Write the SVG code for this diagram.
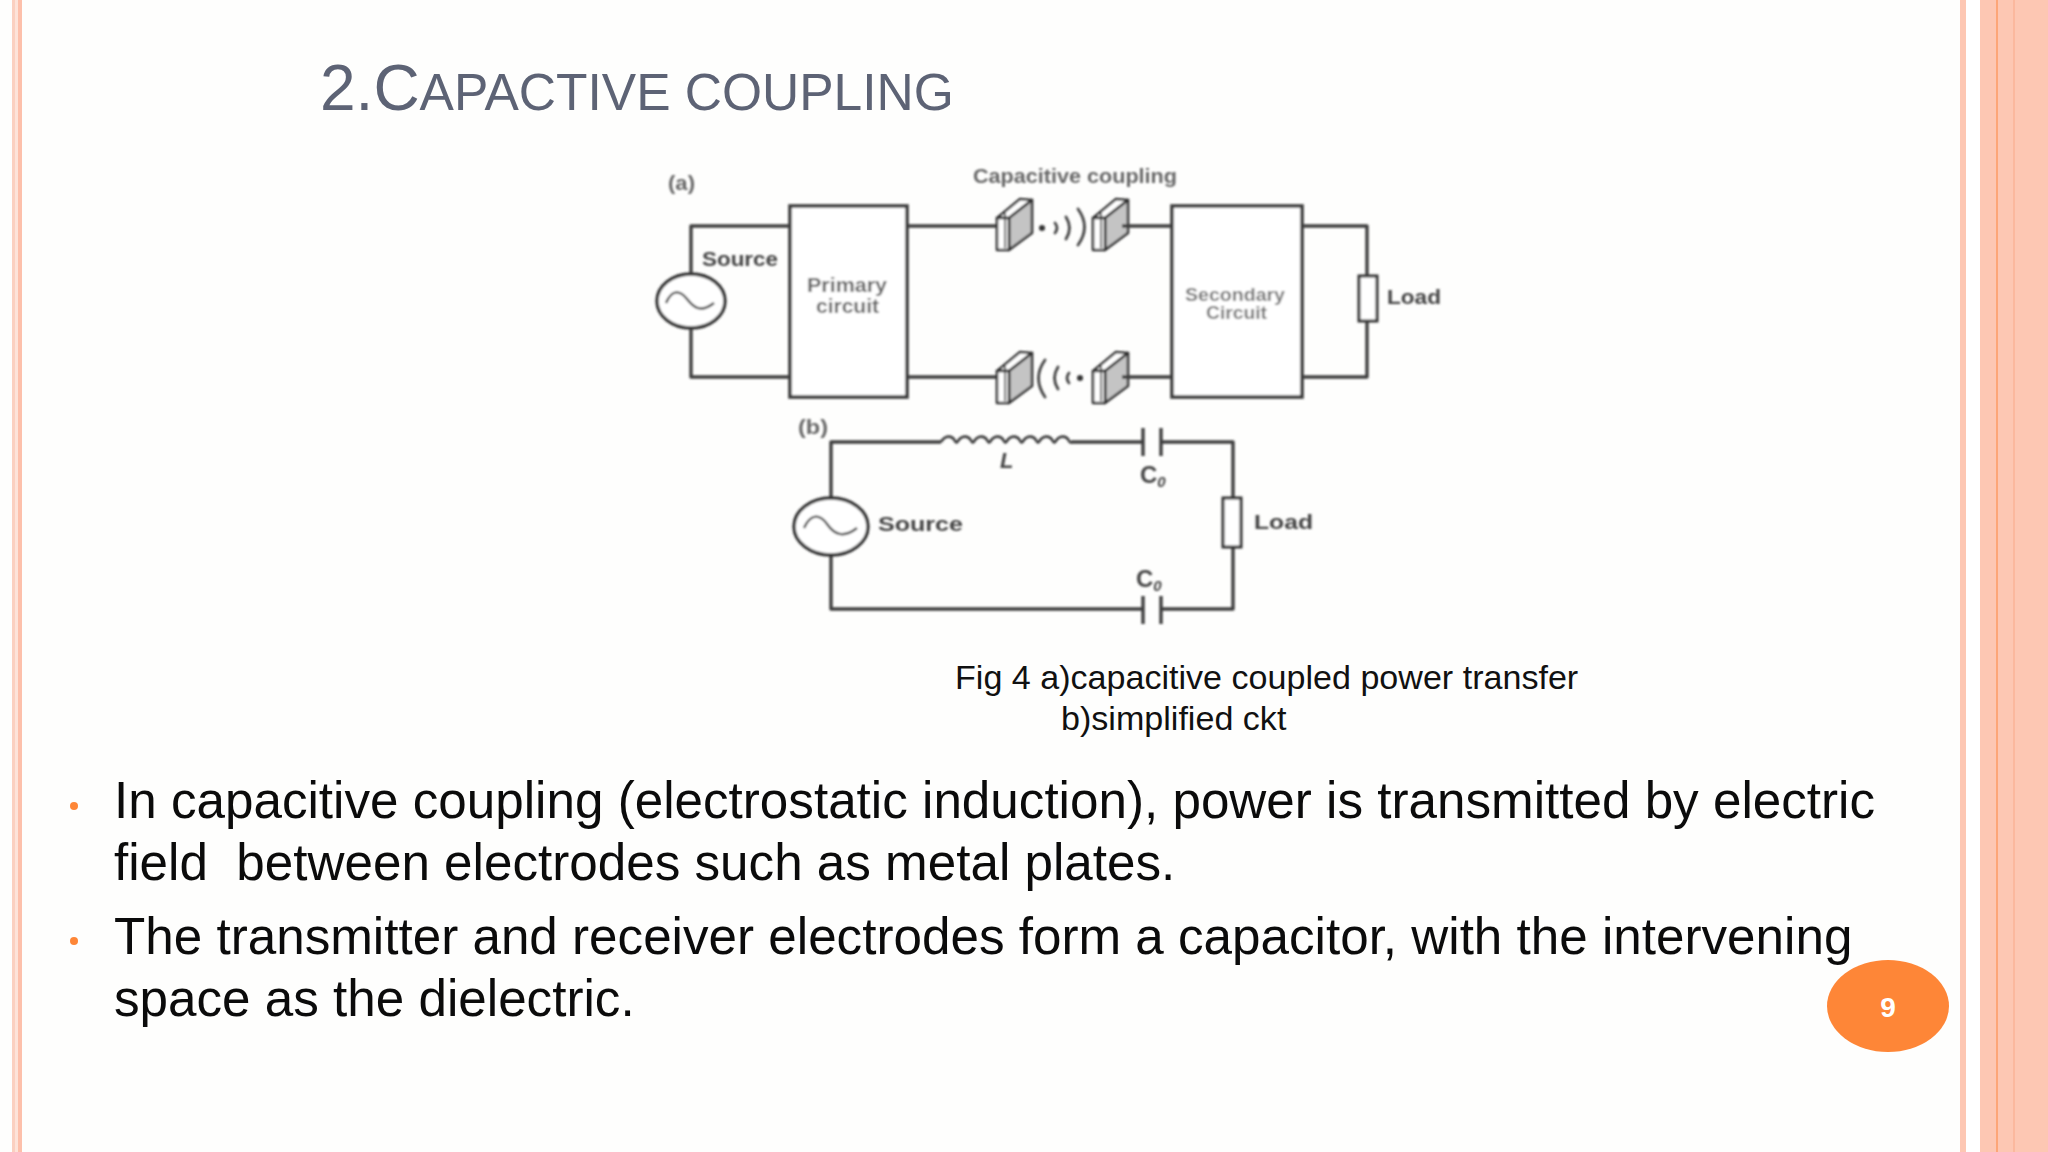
<svg xmlns="http://www.w3.org/2000/svg" width="2048" height="1152" viewBox="0 0 2048 1152">
<style>
text{font-family:"Liberation Sans",Arial,sans-serif}
.w{fill:none;stroke:#3c3c3c;stroke-width:3.4;stroke-linejoin:round}
.box{fill:#fff;stroke:#3c3c3c;stroke-width:3.6}
.wave{fill:none;stroke:#444;stroke-width:2.8;stroke-linecap:round}
.lb{fill:#444;font-size:20px;font-weight:bold}
.lg{fill:#666;font-size:20px;font-weight:bold}
.ls{fill:#777;font-size:18px;font-weight:bold}
.sub{font-size:15px;font-style:italic}
.body{fill:#0b0b0b;font-size:51.2px;white-space:pre}
.cap{fill:#111;font-size:34.1px}
.bu{fill:#fe8637}
.band{fill:#fdc7b3}
</style>
<defs>
<filter id="soft" x="-5%" y="-5%" width="110%" height="110%"><feGaussianBlur stdDeviation="0.8"/></filter>
<g id="plate">
<path d="M0 20L23 1L35 2L12 20Z" fill="#fff" stroke="#333" stroke-width="2.6" stroke-linejoin="round"/>
<path d="M12 20L35 2V35L12 52Z" fill="#c4c4c4" stroke="#333" stroke-width="2.6" stroke-linejoin="round"/>
<path d="M0 20H12V52H0Z" fill="#fff" stroke="#333" stroke-width="2.6" stroke-linejoin="round"/>
<path d="M8 15V50" fill="none" stroke="#333" stroke-width="1.6"/>
</g>
</defs>
<rect width="2048" height="1152" fill="#fefefd"/>
<g id="frame">
<rect x="12" y="0" width="3" height="1152" fill="#fbd0c0"/>
<rect x="15" y="0" width="3" height="1152" fill="#fde3d9"/>
<rect x="18" y="0" width="4" height="1152" fill="#fdc0ab"/>
<rect x="1960" y="0" width="6" height="1152" fill="#fdc7b3"/>
<rect x="1966" y="0" width="14" height="1152" fill="#ffffff"/>
<rect x="1980" y="0" width="68" height="1152" class="band"/>
<rect x="1996" y="0" width="2" height="1152" fill="#fda678"/>
<rect x="2013" y="0" width="2" height="1152" fill="#fbb89e"/>
</g>
<text id="title" x="320" y="110" fill="#5d6375" font-size="64">2.C<tspan font-size="51.5">APACTIVE COUPLING</tspan></text>
<g filter="url(#soft)">
<g id="plates">
<use href="#plate" x="997" y="198"/>
<use href="#plate" x="1093" y="198"/>
<use href="#plate" x="997" y="351"/>
<use href="#plate" x="1093" y="351"/>
<circle cx="1042" cy="228" r="3" fill="#333"/>
<path class="wave" d="M1055 223q4 5 0 10M1066 217q7 11 0 22M1078 209q13 18 0 36"/>
<circle cx="1080" cy="378" r="3" fill="#333"/>
<path class="wave" d="M1069 373q-4 5 0 10M1058 367q-7 11 0 22M1045 360q-13 18 0 37"/>
<text class="lg" x="973" y="183" textLength="204" lengthAdjust="spacingAndGlyphs">Capacitive coupling</text>
</g>
<g id="source-a">
<ellipse cx="691" cy="301" rx="34" ry="27" fill="#fff" stroke="#333" stroke-width="3.4"/>
<path d="M666 303c6-14 14-13 21-4s14 14 27 4" fill="none" stroke="#444" stroke-width="2.4"/>
<text class="lb" x="702" y="266" textLength="76" lengthAdjust="spacingAndGlyphs">Source</text>
</g>
<g id="primary">
<rect class="box" x="790" y="206" width="117" height="191"/>
<text class="lg" x="807" y="292" textLength="80" lengthAdjust="spacingAndGlyphs">Primary</text>
<text class="lg" x="816" y="313" textLength="63" lengthAdjust="spacingAndGlyphs">circuit</text>
</g>
<g id="secondary">
<rect class="box" x="1172" y="206" width="130" height="191"/>
<text class="ls" x="1185" y="301" textLength="100" lengthAdjust="spacingAndGlyphs">Secondary</text>
<text class="ls" x="1206" y="319" textLength="61" lengthAdjust="spacingAndGlyphs">Circuit</text>
</g>
<g id="load-a">
<rect x="1359" y="276" width="18" height="45" fill="#fff" stroke="#333" stroke-width="3"/>
<text class="lb" x="1387" y="304" textLength="54" lengthAdjust="spacingAndGlyphs">Load</text>
</g>
<g id="connectors">
<path class="w" d="M691 274V226H790M691 328V377H790"/>
<path class="w" d="M907 226H997M907 377H997"/>
<path class="w" d="M1122 226H1172M1122 377H1172"/>
<path class="w" d="M1302 226H1367V276M1367 321V377H1302"/>
<path class="w" d="M831 498V442H941M1071 442H1143M1161 442H1233V497M1233 547V609H1161M1143 609H831V555"/>
<path class="w" style="stroke-width:2.6" d="M941 442c4-7 11-7 14-1c.7 1.5 1.6 2 2.3 1c4-7 11-7 14-1c.7 1.5 1.6 2 2.3 1c4-7 11-7 14-1c.7 1.5 1.6 2 2.3 1c4-7 11-7 14-1c.7 1.5 1.6 2 2.3 1c4-7 11-7 14-1c.7 1.5 1.6 2 2.3 1c4-7 11-7 14-1c.7 1.5 1.6 2 2.3 1c4-7 11-7 14-1c.7 1.5 1.6 2 2.3 1c4-7 11-7 14-1c.7 1.5 1.6 2 2.3 1"/>
<path class="w" d="M1143 428V456M1161 428V456M1143 596V624M1161 596V624"/>
</g>
<text id="label-a" class="lg" x="668" y="190" textLength="27" lengthAdjust="spacingAndGlyphs">(a)</text>
<text id="label-b" class="lg" x="798" y="434" textLength="30" lengthAdjust="spacingAndGlyphs">(b)</text>
<g id="source-b">
<ellipse cx="831" cy="526.5" rx="37" ry="28.5" fill="#fff" stroke="#333" stroke-width="3.4"/>
<path d="M804 528c7-15 16-14 23-4s16 15 30 4" fill="none" stroke="#444" stroke-width="2.4"/>
<text class="lb" x="878" y="531" textLength="85" lengthAdjust="spacingAndGlyphs">Source</text>
</g>
<g id="load-b">
<rect x="1223" y="498" width="18" height="49" fill="#fff" stroke="#333" stroke-width="3"/>
<text class="lb" x="1254" y="529" textLength="59" lengthAdjust="spacingAndGlyphs">Load</text>
</g>
<text id="label-l" class="lb" x="1000" y="468" style="font-size:22px;font-style:italic">L</text>
<text id="c1" class="lb" x="1140" y="483" style="font-size:24px">C<tspan class="sub" dy="4">0</tspan></text>
<text id="c2" class="lb" x="1136" y="587" style="font-size:24px">C<tspan class="sub" dy="4">0</tspan></text>
</g>
<g id="caption">
<text class="cap" x="955" y="689">Fig 4 a)capacitive coupled power transfer</text>
<text class="cap" x="1061" y="730">b)simplified ckt</text>
</g>
<g id="bullets">
<circle class="bu" cx="74" cy="806" r="4"/>
<circle class="bu" cx="74" cy="941" r="4"/>
<text class="body" x="114" y="818">In capacitive coupling (electrostatic induction), power is transmitted by electric</text>
<text class="body" x="114" y="880">field  between electrodes such as metal plates.</text>
<text class="body" x="114" y="954">The transmitter and receiver electrodes form a capacitor, with the intervening</text>
<text class="body" x="114" y="1016">space as the dielectric.</text>
</g>
<g id="page-number">
<ellipse cx="1888" cy="1006" rx="61" ry="46" fill="#fe8637"/>
<text x="1888" y="1017" text-anchor="middle" fill="#fff" font-size="28" font-weight="bold">9</text>
</g>
</svg>
